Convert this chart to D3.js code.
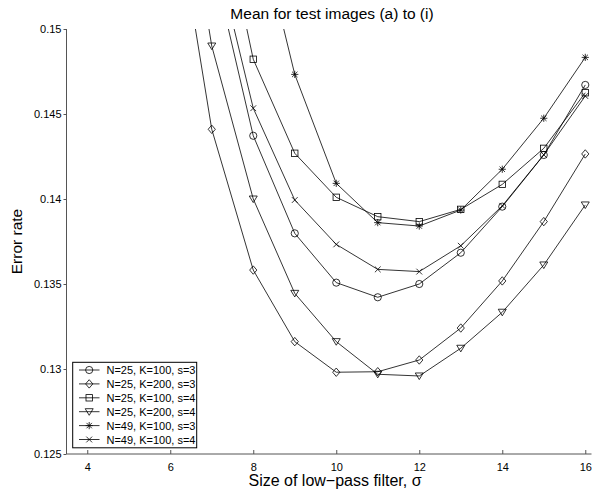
<!DOCTYPE html>
<html>
<head>
<meta charset="utf-8">
<script src="https://cdn.jsdelivr.net/npm/d3@7/dist/d3.min.js"></script>
<style>
body{margin:0;background:#fff;}
svg{display:block;font-family:"Liberation Sans",Arial,Helvetica,sans-serif;}
</style>
</head>
<body>
<svg id="chart" width="596" height="490"></svg>
<script>
const title = "Mean for test images (a) to (i)";
const xLabel = "Size of low\u2212pass filter, \u03c3";
const yLabel = "Error rate";
const xTicks = [4, 6, 8, 10, 12, 14, 16];
const yTicks = [0.125, 0.13, 0.135, 0.14, 0.145, 0.15];
const seriesNames = ["N=25, K=100, s=3","N=25, K=200, s=3","N=25, K=100, s=4","N=25, K=200, s=4","N=49, K=100, s=3","N=49, K=100, s=4"];
const seriesMarkers = ["circle","diamond","square","triangle","asterisk","cross"];
const xCircle = [7,8,9,10,11,12,13,14,15,16];
const yCircle = [0.1542,0.14372,0.13798,0.13508,0.13422,0.1350,0.13684,0.13955,0.14259,0.14671];
const xDiamond = [6,7,8,9,10,11,12,13,14,15,16];
const yDiamond = [0.1591,0.1441,0.13582,0.13161,0.12981,0.12984,0.13053,0.13241,0.13518,0.13867,0.14265];
const xSquare = [7,8,9,10,11,12,13,14,15,16];
const ySquare = [0.1597,0.14822,0.14269,0.1401,0.13896,0.13867,0.13939,0.14086,0.14298,0.14625];
const xTriangle = [6,7,8,9,10,11,12,13,14,15,16];
const yTriangle = [0.1640,0.1490,0.1400,0.13445,0.13161,0.12969,0.12959,0.13122,0.13334,0.13612,0.13965];
const xAsterisk = [8,9,10,11,12,13,14,15,16];
const yAsterisk = [0.1574,0.14733,0.14092,0.13861,0.13841,0.13935,0.14175,0.14475,0.14833];
const xCross = [7,8,9,10,11,12,13,14,15,16];
const yCross = [0.15546,0.14534,0.13994,0.13733,0.13586,0.13573,0.13725,0.1396,0.1426,0.14606];

const xs = [xCircle,xDiamond,xSquare,xTriangle,xAsterisk,xCross];
const ys = [yCircle,yDiamond,ySquare,yTriangle,yAsterisk,yCross];
const series = seriesNames.map((n,i)=>({name:n, marker:seriesMarkers[i], pts: xs[i].map((x,j)=>({x, y: ys[i][j]}))}));

const svg = d3.select("#chart");
const L = 66.5, R = 591.5, T = 29, B = 454;
const x = d3.scaleLinear().domain([3.5, 16.15]).range([L, R]);
const y = d3.scaleLinear().domain([0.125, 0.15]).range([B, T]);

svg.append("defs").append("clipPath").attr("id","clip")
  .append("rect").attr("x",L).attr("y",T).attr("width",R-L+4).attr("height",B-T);

function drawMarker(g, type, cx, cy){
  const s = 3.6;
  const st = {fill:"none", stroke:"#000", "stroke-width":0.8};
  let el;
  if(type==="circle"){ el = g.append("circle").attr("cx",cx).attr("cy",cy).attr("r",s); }
  else if(type==="square"){ el = g.append("rect").attr("x",cx-s+0.4).attr("y",cy-s+0.4).attr("width",2*s-0.8).attr("height",2*s-0.8); }
  else if(type==="diamond"){ el = g.append("path").attr("d",`M${cx},${cy-s-0.6}L${cx+s},${cy}L${cx},${cy+s+0.6}L${cx-s},${cy}Z`); }
  else if(type==="triangle"){ el = g.append("path").attr("d",`M${cx-s-0.4},${cy-s+0.6}L${cx+s+0.4},${cy-s+0.6}L${cx},${cy+s}Z`); }
  else if(type==="asterisk"){ const d=s*0.75; el = g.append("path").attr("d",`M${cx-s},${cy}H${cx+s}M${cx},${cy-s}V${cy+s}M${cx-d},${cy-d}L${cx+d},${cy+d}M${cx-d},${cy+d}L${cx+d},${cy-d}`); }
  else if(type==="cross"){ const d=s*0.8; el = g.append("path").attr("d",`M${cx-d},${cy-d}L${cx+d},${cy+d}M${cx-d},${cy+d}L${cx+d},${cy-d}`); }
  Object.entries(st).forEach(([k,v])=>el.attr(k,v));
}

const plot = svg.append("g").attr("clip-path","url(#clip)");
const line = d3.line().x(d=>x(d.x)).y(d=>y(d.y));
series.forEach(s=>{
  plot.append("path").datum(s.pts).attr("d",line).attr("fill","none").attr("stroke","#000").attr("stroke-width",0.8);
  s.pts.forEach(p=>drawMarker(plot, s.marker, x(p.x), y(p.y)));
});

// axes
const axisColor = "#555";
const xAxis = svg.append("g").attr("transform",`translate(0,${B})`)
  .call(d3.axisBottom(x).tickValues(xTicks).tickSizeInner(-4).tickSizeOuter(0).tickPadding(9).tickFormat(d3.format("d")));
const yAxis = svg.append("g").attr("transform",`translate(${L},0)`)
  .call(d3.axisLeft(y).tickValues(yTicks).tickSizeInner(3).tickSizeOuter(0).tickPadding(2).tickFormat(d=>String(+d.toFixed(3))));
[xAxis,yAxis].forEach(a=>{
  a.select(".domain").attr("stroke",axisColor).attr("stroke-width",1);
  a.selectAll(".tick line").attr("stroke",axisColor);
  a.selectAll("text").attr("font-size",11).attr("fill","#000").attr("font-family","Liberation Sans, Arial, sans-serif");
});
xAxis.select(".domain").attr("d",`M${L},0H${R}`);
yAxis.select(".domain").attr("d",`M0,${B}V${T}`);

svg.append("text").attr("x",(L+R)/2 + 3).attr("y",19).attr("text-anchor","middle").attr("font-size",15.5).text(title);
svg.append("text").attr("x",(L+R)/2 + 6).attr("y",486).attr("text-anchor","middle").attr("font-size",16).text(xLabel);
svg.append("text").attr("transform",`translate(22,${(T+B)/2}) rotate(-90)`).attr("text-anchor","middle").attr("font-size",15.5).text(yLabel);

// legend
const lg = svg.append("g");
const lx = 72.7, ly = 362.3, lw = 124, lh = 85.5;
lg.append("rect").attr("x",lx).attr("y",ly).attr("width",lw).attr("height",lh).attr("fill","#fff").attr("stroke","#000").attr("stroke-width",1);
series.forEach((s,i)=>{
  const cy = 370 + i*13.9;
  lg.append("line").attr("x1",79).attr("x2",99.5).attr("y1",cy).attr("y2",cy).attr("stroke","#000").attr("stroke-width",0.8);
  drawMarker(lg, s.marker, 89.2, cy);
  lg.append("text").attr("x",106.5).attr("y",cy+4).attr("font-size",11).text(s.name);
});
</script>
</body>
</html>
